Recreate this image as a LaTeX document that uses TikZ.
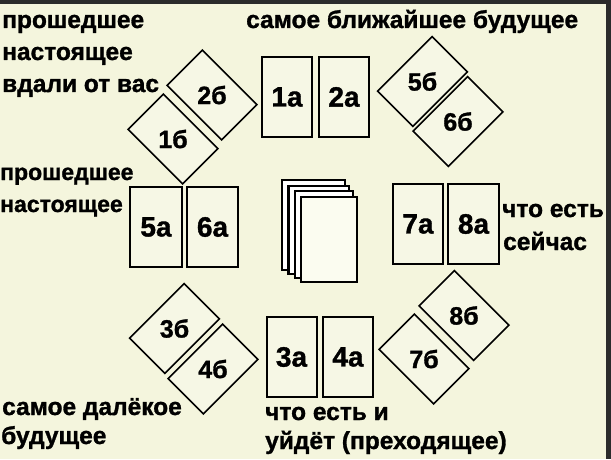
\documentclass[tikz,border=0pt]{standalone}
\usepackage{fontspec}
\setmainfont{Liberation Sans}
\newfontfamily\hv{Liberation Sans Bold}[FakeBold=1.2]
\definecolor{bg}{RGB}{244,245,221}
\definecolor{cardbg}{RGB}{246,247,229}
\definecolor{frame}{RGB}{43,43,43}
\begin{document}
\begin{tikzpicture}[x=1pt,y=1pt,
  card/.style={draw=black, line width=2pt, fill=cardbg, minimum width=50pt, minimum height=80pt, inner sep=0pt, font=\fontsize{28}{28}\hv},
  dia/.style={draw=black, line width=1.6pt, fill=cardbg, minimum width=77pt, minimum height=50pt, inner sep=0pt},
  dlbl/.style={font=\fontsize{25}{25}\hv, inner sep=0pt},
  txt/.style={font=\fontsize{24.5}{24.5}\hv, inner sep=0pt, anchor=base west},
  txts/.style={txt, font=\fontsize{23}{23}\hv},
  deck/.style={draw=black, line width=2.2pt, fill=white}
]
\useasboundingbox (0,0) rectangle (611,459);
\fill[bg] (0,0) rectangle (611,459);
\fill[frame] (0,455) rectangle (611,459);
\fill[frame] (606,0) rectangle (611,459);

% texts
\node[txt] (t1) at (2,431) {прошедшее};
\node[txt] (t2) at (2,399) {настоящее};
\node[txt] (t3) at (2,367) {вдали от вас};
\node[txt] (t4) at (246,431) {самое ближайшее будущее};
\node[txts] (t5) at (0,279) {прошедшее};
\node[txts] (t6) at (0,247) {настоящее};
\node[txt] (t7) at (502,242) {что есть};
\node[txt] (t8) at (503,209) {сейчас};
\node[txt] (t9) at (2,44) {самое далёкое};
\node[txt] (t10) at (1,15) {будущее};
\node[txt] (t11) at (265,39) {что есть и};
\node[txt] (t12) at (265,10) {уйдёт (преходящее)};

% cards
\node[card] (c1) at (287,362) {1а};
\node[card] (c2) at (344,362) {2а};
\node[card, minimum width=52pt] (c5) at (156,232) {5а};
\node[card, minimum width=51pt] (c6) at (212.5,232) {6а};
\node[card] (c7) at (418,235) {7а};
\node[card, minimum width=51pt] (c8) at (473.5,235) {8а};
\node[card] (c3) at (291.5,102) {3а};
\node[card] (c4) at (348,102) {4а};

% diamonds
\node[dia, rotate=-45] (d2) at (212,364) {};
\node[dlbl] (l2) at (d2.center) {2б};
\node[dia, rotate=-45] (d1) at (173,320) {};
\node[dlbl] (l1) at (d1.center) {1б};
\node[dia, rotate=45] (d5) at (422.5,377.5) {};
\node[dlbl] (l5) at (d5.center) {5б};
\node[dia, rotate=45] (d6) at (458,337.5) {};
\node[dlbl] (l6) at (d6.center) {6б};
\node[dia, rotate=45] (d3) at (174.5,130.5) {};
\node[dlbl] (l3) at (d3.center) {3б};
\node[dia, rotate=45] (d4) at (213,90) {};
\node[dlbl] (l4) at (d4.center) {4б};
\node[dia, rotate=-45] (d8) at (464,143.5) {};
\node[dlbl] (l8) at (d8.center) {8б};
\node[dia, rotate=-45] (d7) at (424,100) {};
\node[dlbl] (l7) at (d7.center) {7б};

% deck
\draw[deck] (282.1,189) rectangle (345,279.1);
\draw[deck] (288.4,185) rectangle (349,273.4);
\draw[deck] (294.7,181) rectangle (353,267.7);
\draw[deck, fill={rgb,255:red,251;green,252;blue,240}] (301,177) rectangle (357,262);
\end{tikzpicture}
\end{document}
